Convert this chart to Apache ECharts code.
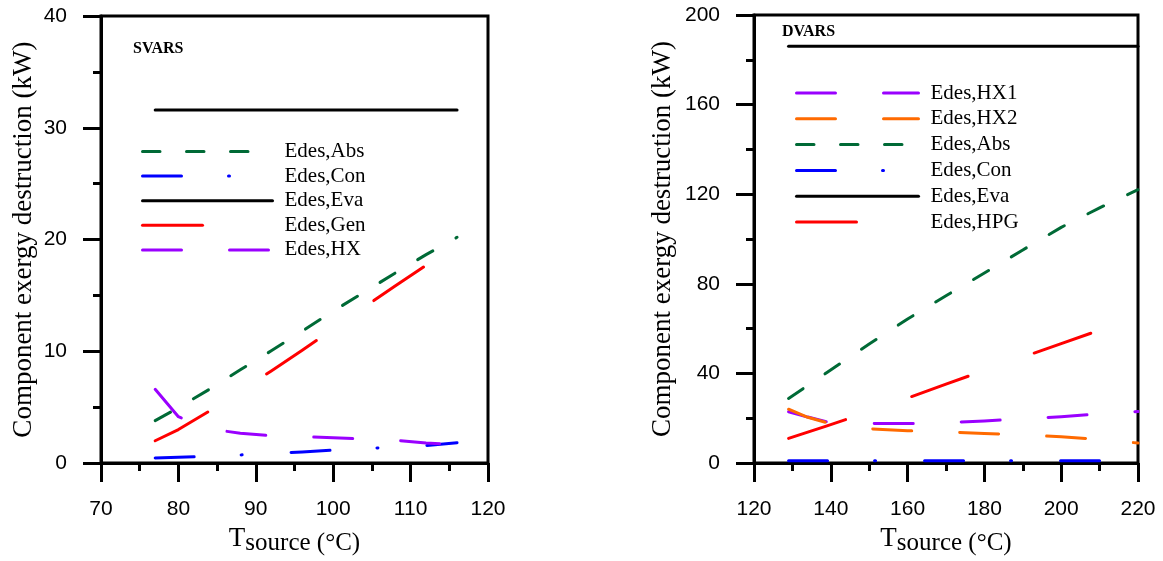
<!DOCTYPE html>
<html>
<head>
<meta charset="utf-8">
<script src="https://cdn.jsdelivr.net/npm/echarts@6/dist/echarts.min.js"></script>
<style>
html,body{margin:0;padding:0;background:#fff;}
#c{width:1163px;height:561px;}
</style>
</head>
<body>
<div id="c"></div>
<script>
// ---------- SVARS (left panel) ----------
const svarsT   = [77, 80, 84, 88, 92, 96, 100, 104, 108, 112, 116];
const svarsAbs = [3.8, 4.95, 6.6, 8.35, 10.05, 11.8, 13.6, 15.3, 17.0, 18.65, 20.2];
const svarsCon = [0.45, 0.52, 0.62, 0.73, 0.85, 1.0, 1.16, 1.3, 1.43, 1.57, 1.82];
const svarsEva = [31.6, 31.6, 31.6, 31.6, 31.6, 31.6, 31.6, 31.6, 31.6, 31.6, 31.6];
const svarsGen = [2.0, 3.0, 4.65, 6.45, 8.25, 10.1, 12.0, 13.95, 15.85, 17.7, 19.5];
const svarsHX  = [6.6, 4.15, 3.05, 2.68, 2.45, 2.37, 2.27, 2.15, 2.05, 1.8, 1.65];

// ---------- DVARS (right panel) ----------
const dvarsT   = [129, 134, 139, 145, 150, 160, 170, 180, 190, 200, 210, 220];
const dvarsHX1 = [22.9, 20.5, 18.4, 18.0, 17.7, 17.6, 18.0, 18.8, 19.7, 20.7, 21.9, 23.0];
const dvarsHX2 = [24.0, 20.4, 18.0, 16.5, 15.3, 14.4, 13.9, 13.2, 12.5, 11.7, 10.5, 8.9];
const dvarsAbs = [28.8, 34.6, 40.4, 47.4, 53.1, 64.3, 74.7, 84.8, 95.1, 105.2, 113.9, 122.0];
const dvarsCon = [1.0, 1.0, 1.0, 1.0, 1.0, 1.0, 1.0, 1.0, 1.0, 1.0, 1.0, 1.0];
const dvarsEva = [186, 186, 186, 186, 186, 186, 186, 186, 186, 186, 186, 186];
const dvarsHPG = [11.0, 13.8, 16.6, 20.0, 23.0, 29.0, 35.2, 41.3, 47.3, 53.3, 59.3, 65.3];

// tick settings
const svarsXTicks = {min: 70, max: 120, interval: 10};
const svarsYTicks = {min: 0, max: 40, interval: 10};
const dvarsXTicks = {min: 120, max: 220, interval: 20};
const dvarsYTicks = {min: 0, max: 200, interval: 40};

const legendLeft  = ['Edes,Abs', 'Edes,Con', 'Edes,Eva', 'Edes,Gen', 'Edes,HX'];
const legendRight = ['Edes,HX1', 'Edes,HX2', 'Edes,Abs', 'Edes,Con', 'Edes,Eva', 'Edes,HPG'];

const SERIF = 'Liberation Serif, Times New Roman, serif';
const SANS  = 'Liberation Sans, Arial, sans-serif';

const C = {
  abs: '#006a36', con: '#0000ff', eva: '#000000', gen: '#ff0000',
  hx: '#9a00ff', hx2: '#ff6a00'
};
const DASH = {
  abs: [17.5, 26.5],
  con: [39, 47, 1, 49],
  gen: [60, 70],
  hx:  [39, 48],
  solid: 'solid'
};

function pairs(xs, ys) { return xs.map((x, i) => [x, ys[i]]); }

function mkSeries(name, xi, xs, ys, color, dash, z) {
  return {
    name: name, type: 'line', xAxisIndex: xi, yAxisIndex: xi,
    data: pairs(xs, ys), symbol: 'none', showSymbol: false, z: z || 2,
    silent: true,
    itemStyle: {color: color},
    lineStyle: {color: color, width: 3, type: dash, cap: 'round', join: 'round'}
  };
}

function xAxisCfg(gi, t, gap) {
  return {
    type: 'value', gridIndex: gi, min: t.min, max: t.max, interval: t.interval,
    name: '{t|T}{s|source (°C)}', nameLocation: 'middle', nameGap: gap,
    nameTextStyle: {
      color: '#000',
      rich: {
        t: {fontFamily: SERIF, fontSize: 27, color: '#000'},
        s: {fontFamily: SERIF, fontSize: 25, color: '#000', padding: [10, 0, 0, 0]}
      }
    },
    axisLine: {show: true, lineStyle: {color: '#000', width: 3}},
    axisTick: {show: true, inside: false, length: 19, lineStyle: {color: '#000', width: 3}},
    minorTick: {show: true, splitNumber: 2, length: 8, lineStyle: {color: '#000', width: 3}},
    splitLine: {show: false},
    axisLabel: {color: '#000', fontFamily: SANS, fontSize: 21, margin: 36,
      showMinLabel: true, showMaxLabel: true, hideOverlap: false}
  };
}
function yAxisCfg(gi, t, gap) {
  return {
    type: 'value', gridIndex: gi, min: t.min, max: t.max, interval: t.interval,
    name: 'Component exergy destruction (kW)', nameLocation: 'middle', nameGap: gap,
    nameTextStyle: {color: '#000', fontFamily: SERIF, fontSize: 27},
    axisLine: {show: true, lineStyle: {color: '#000', width: 3}},
    axisTick: {show: true, inside: false, length: 18, lineStyle: {color: '#000', width: 3}},
    minorTick: {show: true, splitNumber: 2, length: 8, lineStyle: {color: '#000', width: 3}},
    splitLine: {show: false},
    axisLabel: {color: '#000', fontFamily: SANS, fontSize: 21, margin: 34,
      showMinLabel: true, showMaxLabel: true, hideOverlap: false}
  };
}

const legendBase = {
  orient: 'vertical', padding: 0, itemHeight: 21, selectedMode: false,
  itemStyle: {opacity: 0, borderWidth: 0},
  lineStyle: {width: 3},
  textStyle: {fontFamily: SERIF, fontSize: 21, lineHeight: 21, color: '#000'}
};

const option = {
  animation: false,
  backgroundColor: '#fff',
  title: [
    {text: 'SVARS', left: 133, top: 41, padding: 0,
     textStyle: {fontFamily: SERIF, fontWeight: 'bold', fontSize: 16, color: '#000'}},
    {text: 'DVARS', left: 782, top: 24, padding: 0,
     textStyle: {fontFamily: SERIF, fontWeight: 'bold', fontSize: 16, color: '#000'}}
  ],
  grid: [
    {left: 101, top: 16, width: 387, height: 449, show: true, borderColor: '#000', borderWidth: 3, backgroundColor: 'transparent'},
    {left: 754, top: 15, width: 384, height: 448, show: true, borderColor: '#000', borderWidth: 3, backgroundColor: 'transparent'}
  ],
  xAxis: [xAxisCfg(0, svarsXTicks, 56), xAxisCfg(1, dvarsXTicks, 58)],
  yAxis: [yAxisCfg(0, svarsYTicks, 64), yAxisCfg(1, dvarsYTicks, 78)],
  legend: [
    Object.assign({}, legendBase, {
      left: 141, top: 141, itemWidth: 130, itemGap: 3.6, data: legendLeft,
      textStyle: Object.assign({}, legendBase.textStyle, {padding: [0, 0, 0, 7]})
    }),
    Object.assign({}, legendBase, {
      left: 795, top: 82.5, itemWidth: 122, itemGap: 4.8, data: legendRight,
      textStyle: Object.assign({}, legendBase.textStyle, {padding: [0, 0, 0, 7]})
    })
  ],
  series: [
    mkSeries('Edes,Abs', 0, svarsT, svarsAbs, C.abs, DASH.abs, 2),
    mkSeries('Edes,Con', 0, svarsT, svarsCon, C.con, DASH.con, 3),
    mkSeries('Edes,Eva', 0, svarsT, svarsEva, C.eva, DASH.solid, 2),
    mkSeries('Edes,Gen', 0, svarsT, svarsGen, C.gen, DASH.gen, 3),
    mkSeries('Edes,HX', 0, svarsT, svarsHX, C.hx, DASH.hx, 4),

    mkSeries('Edes,HX1', 1, dvarsT, dvarsHX1, C.hx, DASH.hx, 3),
    mkSeries('Edes,HX2', 1, dvarsT, dvarsHX2, C.hx2, DASH.hx, 4),
    mkSeries('Edes,Abs', 1, dvarsT, dvarsAbs, C.abs, DASH.abs, 2),
    mkSeries('Edes,Con', 1, dvarsT, dvarsCon, C.con, DASH.con, 3),
    mkSeries('Edes,Eva', 1, dvarsT, dvarsEva, C.eva, DASH.solid, 2),
    mkSeries('Edes,HPG', 1, dvarsT, dvarsHPG, C.gen, DASH.gen, 3)
  ]
};

const chart = echarts.init(document.getElementById('c'), null, {renderer: 'canvas'});
chart.setOption(option);
</script>
</body>
</html>
